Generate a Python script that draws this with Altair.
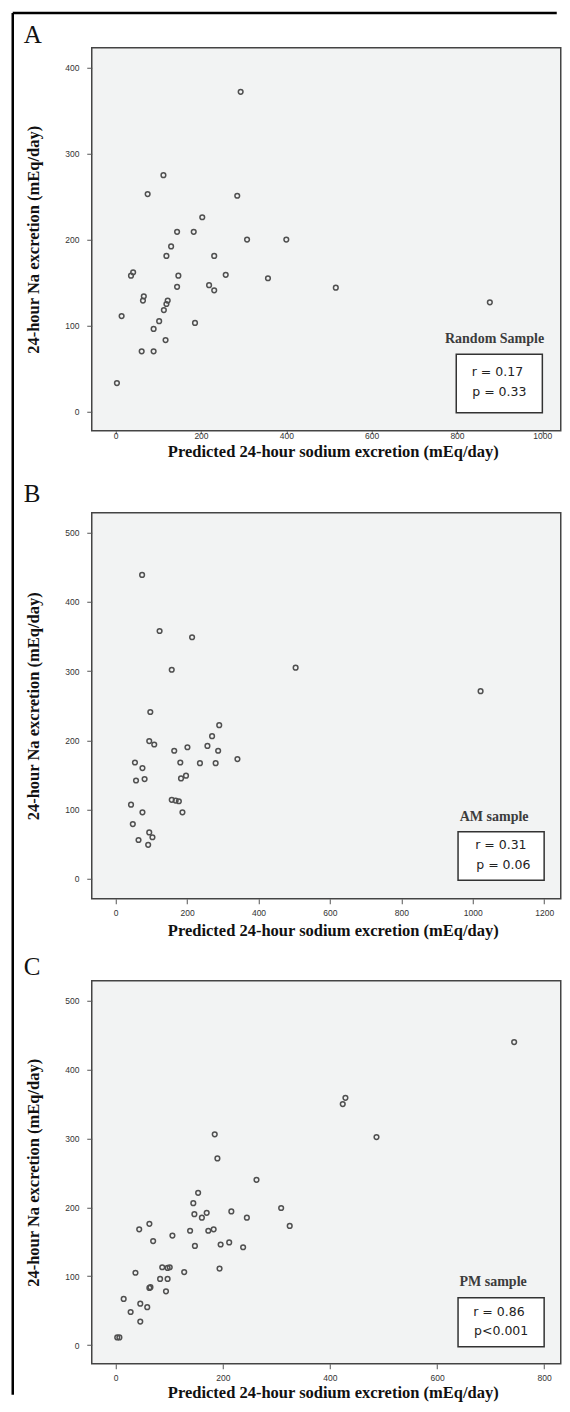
import altair as alt
import pandas as pd

# ---------------- data ----------------
# Panel A: Random Sample
a_pred = [293, 112, 75, 285, 203, 144, 183, 308, 400, 130, 119, 231, 41, 36, 147, 258, 357, 516,
          144, 219, 231, 66, 64, 122, 119, 113, 877, 14, 102, 186, 89, 117, 61, 89, 3]
a_meas = [372, 275, 253, 251, 226, 209, 209, 200, 200, 192, 181, 181, 162, 158, 158, 159, 155, 144,
          145, 147, 141, 134, 129, 129, 125, 118, 127, 111, 105, 103, 96, 83, 70, 70, 33]

# Panel B: AM sample
b_pred = [74, 123, 214, 157, 504, 1022, 97, 290, 94, 108, 164, 201, 257, 270, 287, 181, 236, 280,
          341, 54, 75, 57, 81, 183, 197, 157, 168, 177, 187, 43, 75, 48, 94, 103, 64, 91]
b_meas = [439, 358, 349, 302, 305, 271, 241, 222, 199, 194, 185, 190, 192, 206, 185, 168, 167, 167,
          173, 168, 160, 142, 144, 145, 149, 114, 113, 112, 96, 107, 96, 79, 67, 60, 56, 49]

# Panel C: PM sample
c_pred = [744, 429, 424, 487, 185, 190, 263, 154, 145, 309, 147, 170, 161, 216, 245, 325, 44, 63,
          139, 173, 183, 106, 70, 148, 196, 212, 238, 194, 128, 37, 87, 97, 101, 83, 97, 63, 65, 94,
          15, 46, 59, 28, 46, 3, 7]
c_meas = [440, 359, 350, 302, 306, 271, 240, 221, 206, 199, 190, 192, 185, 194, 185, 173, 168, 176,
          166, 166, 168, 159, 151, 144, 146, 149, 142, 111, 106, 105, 113, 112, 113, 96, 96, 83, 84, 78,
          67, 60, 55, 48, 34, 11, 11]

a_xticks = [0, 200, 400, 600, 800, 1000]
b_xticks = [0, 200, 400, 600, 800, 1000, 1200]
c_xticks = [0, 200, 400, 600, 800]
a_yticks = [0, 100, 200, 300, 400]
bc_yticks = [0, 100, 200, 300, 400, 500]

letters = ["A", "B", "C"]
samples = ["Random Sample", "AM sample", "PM sample"]
r_texts = ["r = 0.17", "r = 0.31", "r = 0.86"]
p_texts = ["p = 0.33", "p = 0.06", "p<0.001"]

XTITLE = "Predicted 24-hour sodium excretion (mEq/day)"
YTITLE = "24-hour Na excretion (mEq/day)"

W = 469
ONE = pd.DataFrame({"k": [0]})
SERIF = "Liberation Serif"
SANS = "Liberation Sans"


def deco_text(txt, x, y, **kw):
    return alt.Chart(ONE).mark_text(**kw).encode(
        x=alt.value(x), y=alt.value(y), text=alt.value(txt))


def panel(pred, meas, xdom, xticks, ydom, yticks, h, letter, letter_y, sample, sample_x,
          sample_y, box, rtxt, ptxt, rpos, ppos, xtick, xlabpad, xtitle_y, frame=False):
    df = pd.DataFrame({"pred": pred, "meas": meas})
    pts = alt.Chart(df).mark_point(
        shape="circle", filled=False, size=22, strokeWidth=1.5, color="#505050", opacity=1
    ).encode(
        x=alt.X("pred:Q",
                scale=alt.Scale(domain=xdom, nice=False, zero=False),
                axis=alt.Axis(values=xticks, format="d", title=XTITLE, titleX=241,
                              titleY=xtitle_y, titleBaseline="middle", tickSize=xtick,
                              labelPadding=xlabpad, labelFlush=False)),
        y=alt.Y("meas:Q",
                scale=alt.Scale(domain=ydom, nice=False, zero=False),
                axis=alt.Axis(values=yticks, format="d", title=YTITLE, titleX=-58.3,
                              titleY=h / 2, titleBaseline="middle", titleAngle=270,
                              tickSize=5, labelPadding=7.8, labelFlush=False)),
    )
    rect = alt.Chart(ONE).mark_rect(fill="white", stroke="#333333", strokeWidth=1.5).encode(
        x=alt.value(box[0]), x2=alt.value(box[1]), y=alt.value(box[2]), y2=alt.value(box[3]))
    layers = [pts, rect,
              deco_text(letter, -68, letter_y, font=SERIF, fontSize=25, align="left",
                        baseline="alphabetic", color="#111111"),
              deco_text(sample, sample_x, sample_y, font=SERIF, fontSize=14, fontWeight="bold",
                        align="right", baseline="alphabetic", color="#3c3c3c"),
              deco_text(rtxt, rpos[0], rpos[1], font="DejaVu Sans", fontSize=12.5, align="left",
                        baseline="middle", color="#222222"),
              deco_text(ptxt, ppos[0], ppos[1], font="DejaVu Sans", fontSize=12.5, align="left",
                        baseline="middle", color="#222222")]
    if frame:
        left = alt.Chart(ONE).mark_rule(color="black", strokeWidth=2.5).encode(
            x=alt.value(-79), y=alt.value(-34.7), y2=alt.value(1347))
        top = alt.Chart(ONE).mark_rule(color="black", strokeWidth=2.5).encode(
            x=alt.value(-79), x2=alt.value(465), y=alt.value(-34.7))
        layers += [left, top]
    return alt.layer(*layers).properties(width=W, height=h)


pa = panel(a_pred, a_meas, [-56, 1043.2], a_xticks, [-22.5, 423.3], a_yticks, 383,
           letters[0], -4.7, samples[0], 452.4, 295.2, (364.5, 450.6, 306.6, 365.0),
           r_texts[0], p_texts[0], (380, 324.3), (380.5, 344.0), 3, -2.5, 20.7, frame=True)
pb = panel(b_pred, b_meas, [-67, 1246.5], b_xticks, [-28.9, 528.9], bc_yticks, 386,
           letters[1], -11, samples[1], 436.8, 307.9, (366.3, 452.4, 319.0, 367.6),
           r_texts[1], p_texts[1], (383.4, 332.3), (384.5, 352.3), 5, 4.7, 31.7)
pc = panel(c_pred, c_meas, [-44.6, 831.0], c_xticks, [-27.2, 529.1], bc_yticks, 383,
           letters[2], -5.5, samples[2], 435, 304.9, (366.3, 452.4, 317.0, 366.0),
           r_texts[2], p_texts[2], (381.5, 331.0), (382.3, 350.3), 5, 4.8, 28.3)

chart = alt.vconcat(pa, pb, pc, spacing=82, bounds="flush").properties(
    padding={"left": 2.75, "top": 2.75, "right": 0, "bottom": 0},
    background="white",
).configure_view(
    fill="#f2f3f3", stroke="#444444", strokeWidth=1.5
).configure_axis(
    domain=False, grid=False, tickColor="#555555", tickWidth=1,
    labelFont=SANS, labelFontSize=8.5, labelColor="#333333",
    titleFont=SERIF, titleFontSize=16.5, titleFontWeight="bold", titleColor="#111111",
)

chart.save("out.html", embed_options={"renderer": "svg", "actions": False})
